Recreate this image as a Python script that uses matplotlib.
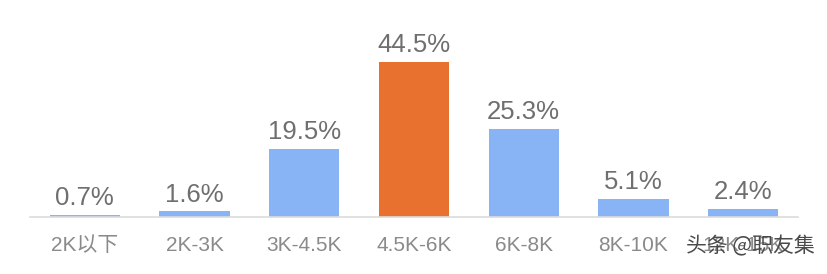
import matplotlib
matplotlib.use("Agg")
import matplotlib.pyplot as plt

categories = ["2K以下", "2K-3K", "3K-4.5K", "4.5K-6K", "6K-8K", "8K-10K", "12K-15K"]
values = [0.7, 1.6, 19.5, 44.5, 25.3, 5.1, 2.4]
labels = ["0.7%", "1.6%", "19.5%", "44.5%", "25.3%", "5.1%", "2.4%"]
highlight = 3

plt.rcParams['font.family'] = ['Liberation Sans', 'Noto Sans CJK SC', 'DejaVu Sans']

fig = plt.figure(figsize=(8.28, 2.74), dpi=100)
ax = fig.add_axes([30/828, 57/274, 768/828, 174/274])

blue = "#88b4f6"
orange = "#e9712f"
colors = [orange if i == highlight else blue for i in range(len(values))]
x = list(range(len(values)))
ax.bar(x, values, width=0.64, color=colors, zorder=2)

for xi, v, lab in zip(x, values, labels):
    ax.annotate(lab, (xi, v), xytext=(0, 3.5), textcoords="offset points",
                ha="center", va="bottom", fontsize=18.5, color="#6f6f6f",
                annotation_clip=False)

ax.set_xlim(-0.5, len(values) - 0.5)
ax.set_ylim(0, 50)
ax.set_xticks(x)
ax.set_xticklabels(categories, fontsize=15, color="#8a8a8a")
ax.tick_params(axis="x", length=0, pad=14)
ax.set_yticks([])
for s in ["top", "right", "left"]:
    ax.spines[s].set_visible(False)
ax.spines["bottom"].set_color("#dcdcdc")
ax.spines["bottom"].set_linewidth(1.2)

fig.text(750/828, 1 - 246/274, "头条 @职友集", ha="center", va="center",
         fontsize=15, color="#4a4a4a", family=['Noto Sans CJK SC', 'DejaVu Sans'])

fig.savefig("out.png", dpi=100, facecolor="white")
